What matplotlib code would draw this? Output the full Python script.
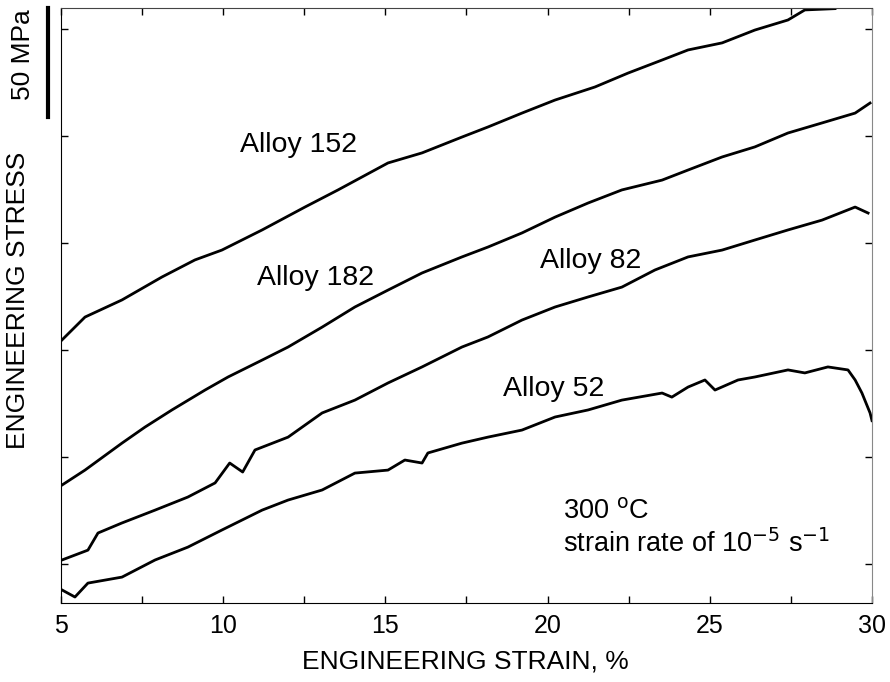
import matplotlib.pyplot as plt
from matplotlib.transforms import blended_transform_factory

plt.rcParams['font.family'] = ['Liberation Sans', 'DejaVu Sans']

# strain (%) and stress (MPa, relative offset)
strain_152 = [5.03, 5.74, 6.88, 8.11, 9.13, 9.96, 11.20, 12.52, 13.54, 15.08, 16.13,
              17.36, 18.16, 19.21, 20.23, 21.46, 22.48, 23.53, 24.33, 25.38, 26.39,
              27.41, 27.93, 28.86]
stress_152 = [104.7, 115.4, 123.4, 134.1, 142.1, 146.7, 156.1, 166.8, 174.8, 187.4, 192.1,
              199.5, 204.2, 210.7, 216.8, 222.9, 229.4, 235.5, 240.2, 243.5, 249.5,
              254.2, 258.9, 259.5]

strain_182 = [5.03, 5.74, 6.88, 7.59, 8.42, 9.44, 10.15, 11.20, 12.00, 13.05, 14.06,
              15.08, 16.13, 17.36, 18.16, 19.21, 20.23, 21.25, 22.29, 23.53, 24.33,
              25.38, 26.39, 27.41, 28.46, 29.48, 29.94]
stress_182 = [36.9, 43.9, 56.5, 64.0, 72.0, 81.3, 87.4, 95.3, 101.4, 110.7, 120.1,
              128.0, 136.0, 143.5, 148.1, 154.7, 162.1, 168.7, 174.8, 179.4, 184.1,
              190.2, 194.9, 201.4, 206.1, 210.7, 215.4]

strain_82 = [5.03, 5.83, 6.14, 6.88, 7.90, 8.91, 9.75, 10.20, 10.60, 10.98, 12.00,
             13.05, 14.06, 15.08, 16.13, 17.36, 18.16, 19.21, 20.23, 21.25, 22.29,
             23.31, 24.33, 25.38, 26.39, 27.41, 28.46, 29.48, 29.88]
stress_82 = [1.9, 6.5, 14.5, 19.2, 25.2, 31.3, 37.9, 47.2, 43.0, 53.3, 59.3,
             70.6, 76.6, 84.6, 92.1, 101.4, 106.1, 114.0, 120.1, 124.8, 129.4,
             137.4, 143.5, 146.7, 151.4, 156.1, 160.7, 166.8, 164.0]

strain_52 = [5.03, 5.43, 5.83, 6.88, 7.90, 8.91, 9.96, 11.20, 12.00, 13.05, 14.06,
             15.08, 15.60, 16.13, 16.31, 17.36, 18.16, 19.21, 20.23, 21.25, 22.29,
             23.53, 23.83, 24.33, 24.85, 25.16, 25.87, 26.39, 27.41, 27.93, 28.64,
             29.26, 29.48, 29.69, 29.94, 30.0]
stress_52 = [-12.1, -15.4, -8.9, -6.1, 1.9, 7.9, 15.9, 25.2, 29.9, 34.6, 42.5,
             43.9, 48.6, 47.2, 51.9, 56.5, 59.3, 62.6, 68.7, 72.0, 76.6,
             79.9, 78.0, 82.7, 86.0, 81.3, 86.0, 87.4, 90.7, 89.3, 92.1,
             90.7, 86.0, 79.9, 70.6, 67.0]

x_ticks = [5, 7.5, 10, 12.5, 15, 17.5, 20, 22.5, 25, 27.5, 30]
x_tick_labels = ['5', '', '10', '', '15', '', '20', '', '25', '', '30']
y_ticks = [0, 50, 100, 150, 200, 250]

fig = plt.figure(figsize=(8.9, 6.82), dpi=100)
ax = fig.add_axes([61 / 890, 1 - 603 / 682, 811 / 890, 595 / 682])

for xs, ys in [(strain_152, stress_152), (strain_182, stress_182),
               (strain_82, stress_82), (strain_52, stress_52)]:
    ax.plot(xs, ys, color='black', linewidth=2.0)

ax.set_xlim(5, 30)
ax.set_ylim(-18.2, 259.8)
ax.set_xticks(x_ticks)
ax.set_xticklabels(x_tick_labels)
ax.set_yticks(y_ticks)
ax.set_yticklabels([])
ax.tick_params(direction='in', length=5, width=1, top=True, right=True,
               labelsize=18, pad=8)
ax.spines['right'].set_color('#888888')
ax.spines['top'].set_color('#444444')

# curve labels
ax.text(10.52, 192.7, 'Alloy 152', fontsize=20.5, va='baseline')
ax.text(11.03, 130.4, 'Alloy 182', fontsize=20.5, va='baseline')
ax.text(19.77, 138.2, 'Alloy 82', fontsize=20.5, va='baseline')
ax.text(18.62, 78.7, 'Alloy 52', fontsize=20.5, va='baseline')
ax.text(20.47, 21.5, r'300 $^{\mathrm{o}}$C', fontsize=19.5, va='baseline')
ax.text(20.47, 5.7, r'strain rate of 10$^{\mathrm{-5}}$ s$^{\mathrm{-1}}$',
        fontsize=19.5, va='baseline')

# 50 MPa scale bar
trans = blended_transform_factory(ax.transAxes, ax.transData)
ax.plot([-0.016, -0.016], [208.9, 259.8], color='black', linewidth=3,
        transform=trans, clip_on=False)
ax.text(-0.047, 237.9, '50 MPa', rotation=90, fontsize=19, ha='center',
        va='center', transform=trans)

fig.text(18 / 890, 1 - 300 / 682, 'ENGINEERING STRESS', rotation=90,
         fontsize=19, ha='center', va='center')
fig.text(465 / 890, 1 - 662 / 682, 'ENGINEERING STRAIN, %', fontsize=19,
         ha='center', va='center')

fig.savefig('out.png', dpi=100)
